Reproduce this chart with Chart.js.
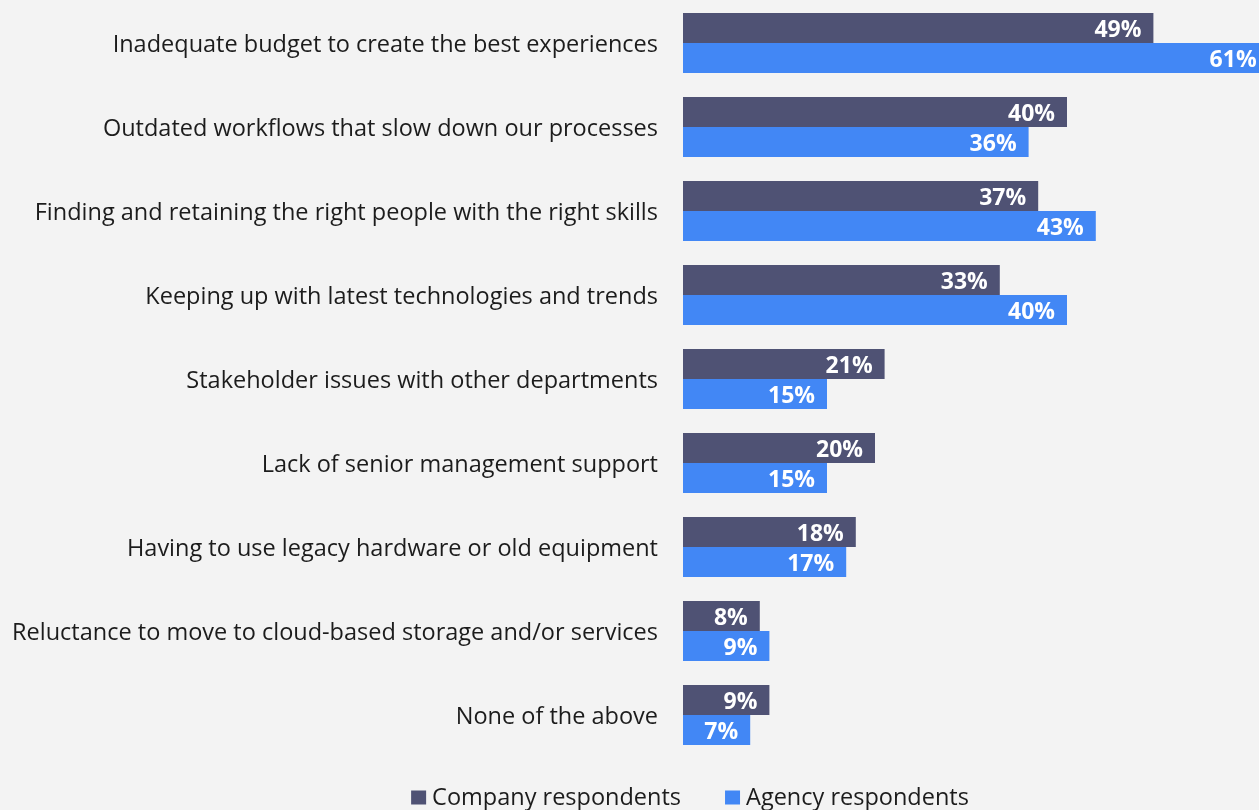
<!DOCTYPE html>
<html>
<head>
<meta charset="utf-8">
<script src="https://cdn.jsdelivr.net/npm/chart.js@4/dist/chart.umd.min.js"></script>
<style>
  html, body { margin: 0; padding: 0; background: #f3f3f3; overflow: hidden; }
  canvas { display: block; }
</style>
</head>
<body>
<canvas id="chart" width="1259" height="810"></canvas>
<script>
const categories = [
  'Inadequate budget to create the best experiences',
  'Outdated workflows that slow down our processes',
  'Finding and retaining the right people with the right skills',
  'Keeping up with latest technologies and trends',
  'Stakeholder issues with other departments',
  'Lack of senior management support',
  'Having to use legacy hardware or old equipment',
  'Reluctance to move to cloud-based storage and/or services',
  'None of the above'
];
const seriesNames = ['Company respondents', 'Agency respondents'];
const companyValues = [49, 40, 37, 33, 21, 20, 18, 8, 9];
const agencyValues  = [61, 36, 43, 40, 15, 15, 17, 9, 7];

const COMPANY_COLOR = '#4f5274';
const AGENCY_COLOR = '#4287f5';
const TEXT_COLOR = '#1c1c1c';
const FONT = '"Open Sans", "Noto Sans", sans-serif';

// White percentage labels at the end of each bar
const valueLabels = {
  id: 'valueLabels',
  afterDatasetsDraw(chart) {
    const ctx = chart.ctx;
    ctx.save();
    ctx.font = 'bold 23px ' + FONT;
    ctx.fillStyle = '#ffffff';
    ctx.textAlign = 'right';
    ctx.textBaseline = 'middle';
    chart.data.datasets.forEach((ds, di) => {
      const meta = chart.getDatasetMeta(di);
      meta.data.forEach((bar, i) => {
        ctx.fillText(ds.data[i] + '%', bar.x - 12, bar.y + 2);
      });
    });
    ctx.restore();
  }
};

// Series key below the bars: small squares followed by the series names
const seriesKey = {
  id: 'seriesKey',
  afterDraw(chart) {
    const ctx = chart.ctx;
    const box = 15, boxGap = 6, itemGap = 44, centerX = 690, centerY = 798;
    ctx.save();
    ctx.font = '23.5px ' + FONT;
    ctx.textBaseline = 'middle';
    ctx.textAlign = 'left';
    const items = chart.data.datasets.map(ds => ({
      text: ds.label, color: ds.backgroundColor, w: ctx.measureText(ds.label).width
    }));
    const total = items.reduce((s, it) => s + box + boxGap + it.w, 0) + itemGap * (items.length - 1);
    let x = centerX - total / 2;
    items.forEach(it => {
      ctx.fillStyle = it.color;
      ctx.fillRect(x, centerY - box / 2, box, box - 1);
      ctx.fillStyle = TEXT_COLOR;
      ctx.fillText(it.text, x + box + boxGap, centerY);
      x += box + boxGap + it.w + itemGap;
    });
    ctx.restore();
  }
};

new Chart(document.getElementById('chart'), {
  type: 'bar',
  data: {
    labels: categories,
    datasets: [
      { label: seriesNames[0], data: companyValues, backgroundColor: COMPANY_COLOR },
      { label: seriesNames[1], data: agencyValues, backgroundColor: AGENCY_COLOR }
    ]
  },
  options: {
    indexAxis: 'y',
    responsive: false,
    animation: false,
    events: [],
    layout: { padding: { top: 1, left: 0, right: 0, bottom: 0 } },
    datasets: { bar: { barPercentage: 1, categoryPercentage: 60 / 84, borderWidth: 0 } },
    scales: {
      x: {
        min: 0, max: 60,
        display: true,
        grid: { display: false },
        border: { display: false },
        ticks: { display: false },
        afterFit(scale) { scale.height = 53; }
      },
      y: {
        grid: { display: false, drawTicks: false },
        border: { display: false },
        ticks: { color: TEXT_COLOR, font: { family: FONT, size: 23.5 }, padding: 25, labelOffset: 2 },
        afterFit(scale) {
          scale.width = 683;
          scale.paddingTop = 0;
          scale.paddingBottom = 0;
        }
      }
    },
    plugins: {
      tooltip: { enabled: false },
      legend: { display: false }
    }
  },
  plugins: [valueLabels, seriesKey]
});
</script>
</body>
</html>
